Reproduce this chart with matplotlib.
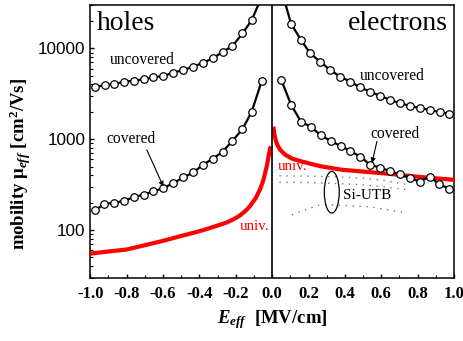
import matplotlib
matplotlib.use("Agg")
import matplotlib.pyplot as plt
from matplotlib.patches import Ellipse

plt.rcParams['mathtext.fontset'] = 'custom'
plt.rcParams['mathtext.rm'] = 'Liberation Serif:bold'
plt.rcParams['mathtext.bf'] = 'Liberation Serif:bold'
plt.rcParams['mathtext.it'] = 'Liberation Serif:italic:bold'

# ---- data ----
holes_unc_x = [-0.974, -0.919, -0.867, -0.812, -0.759, -0.706, -0.653, -0.598, -0.543, -0.488,
               -0.433, -0.381, -0.326, -0.271, -0.218, -0.163, -0.112, -0.05]
holes_unc_y = [3725, 3955, 4055, 4300, 4400, 4560, 4800, 4960, 5400, 5780,
               6280, 6950, 7760, 9180, 10600, 14600, 20500, 40000]

holes_cov_x = [-0.974, -0.922, -0.867, -0.814, -0.759, -0.706, -0.653, -0.598, -0.543, -0.488,
               -0.433, -0.381, -0.326, -0.271, -0.218, -0.163, -0.112, -0.057]
holes_cov_y = [164, 195, 198, 211, 230, 246, 266, 290, 328, 380,
               430, 522, 610, 731, 960, 1290, 2010, 4400]

elec_unc_x = [0.05, 0.1045, 0.16, 0.209, 0.264, 0.319, 0.374, 0.429, 0.484, 0.539,
              0.594, 0.649, 0.704, 0.759, 0.814, 0.869, 0.924, 0.975]
elec_unc_y = [45000, 18500, 12300, 8810, 7130, 5780, 4880, 4300, 3720, 3330,
              3010, 2700, 2490, 2320, 2190, 2100, 1980, 1900]

elec_cov_x = [0.05, 0.105, 0.16, 0.213, 0.267, 0.322, 0.376, 0.43, 0.484, 0.539,
              0.594, 0.649, 0.704, 0.759, 0.812, 0.866, 0.92, 0.975]
elec_cov_y = [4490, 2380, 1540, 1375, 1100, 960, 840, 745, 640, 525,
              485, 445, 410, 372, 342, 388, 318, 285]

univ_h_x = [-1.0, -0.9, -0.8, -0.7, -0.6, -0.5, -0.4, -0.35, -0.3, -0.25, -0.213, -0.18,
            -0.15, -0.121, -0.09, -0.066, -0.05, -0.0385, -0.028, -0.02, -0.011, -0.006]
univ_h_y = [55, 58, 61, 68, 76, 86, 97, 104, 112, 121, 131, 143,
            160, 184, 225, 282, 345, 424, 520, 644, 795, 830]

univ_e_x = [0.007, 0.012, 0.018, 0.028, 0.045, 0.073, 0.11, 0.165, 0.22, 0.275, 0.385,
            0.495, 0.64, 0.823, 1.0]
univ_e_y = [1375, 1150, 1000, 870, 760, 672, 610, 567, 530, 500, 460,
            441, 416, 382, 357]

utb_a_x = [0.04, 0.2, 0.35, 0.5, 0.6, 0.75]
utb_a_y = [395, 392, 385, 372, 355, 315]
utb_b_x = [0.04, 0.2, 0.35, 0.5, 0.6, 0.75]
utb_b_y = [335, 333, 325, 315, 300, 278]
utb_c_x = [0.108, 0.264, 0.429, 0.539, 0.741]
utb_c_y = [147, 190, 185, 180, 154]

x_ticks = [-1.0, -0.8, -0.6, -0.4, -0.2, 0.0, 0.2, 0.4, 0.6, 0.8, 1.0]
x_ticklabels = ['-1.0', '-0.8', '-0.6', '-0.4', '-0.2', '0.0', '0.2', '0.4', '0.6', '0.8', '1.0']
y_ticks = [100, 1000, 10000]
y_ticklabels = ['100', '1000', '10000']

# ---- figure ----
fig = plt.figure(figsize=(4.64, 3.41), dpi=100)
ax = fig.add_axes([0.1946, 0.1862, 0.7838, 0.7991])
ax.set_yscale('log')
ax.set_xlim(-1.0, 1.0)
ax.set_ylim(30, 30000)

mk = dict(color='black', lw=1.6, marker='o', markersize=5.4, markerfacecolor='white',
          markeredgecolor='black', markeredgewidth=0.9, zorder=4)
ax.plot(holes_unc_x, holes_unc_y, **mk)
ax.plot(holes_cov_x, holes_cov_y, **mk)
ax.plot(elec_unc_x, elec_unc_y, **mk)
ax.plot(elec_cov_x, elec_cov_y, **mk)

ax.plot(univ_h_x, univ_h_y, color='#ff0000', lw=3, solid_capstyle='butt', zorder=3)
ax.plot(univ_e_x, univ_e_y, color='#ff0000', lw=3, solid_capstyle='butt', zorder=3)

dot = dict(color='#777777', lw=1.0, linestyle=(0, (1, 4)), zorder=2)
ax.plot(utb_a_x, utb_a_y, **dot)
ax.plot(utb_b_x, utb_b_y, **dot)
ax.plot(utb_c_x, utb_c_y, **dot)

ax.add_patch(Ellipse((0.664, 0.313), 0.041, 0.153, transform=ax.transAxes,
                     fill=False, edgecolor='black', lw=0.9, zorder=5))

ax.axvline(0.0, color='black', lw=1.2, zorder=5)

serif = 'Liberation Serif'
ax.text(0.0176, 0.909, 'holes', transform=ax.transAxes, fontsize=20, family=serif,
        ha='left', va='baseline')
ax.text(0.984, 0.909, 'electrons', transform=ax.transAxes, fontsize=20, family=serif,
        ha='right', va='baseline')
ax.text(-0.891, 6710, 'uncovered', fontsize=11.2, family=serif, ha='left', va='baseline')
ax.text(-0.913, 904, 'covered', fontsize=11.2, family=serif, ha='left', va='baseline')
ax.text(0.484, 4490, 'uncovered', fontsize=11.2, family=serif, ha='left', va='baseline')
ax.text(0.539, 1025, 'covered', fontsize=11.2, family=serif, ha='left', va='baseline')
ax.text(-0.176, 101, 'univ.', fontsize=10.8, family=serif, color='#ff0000', ha='left', va='baseline')
ax.text(0.033, 455, 'univ.', fontsize=10.8, family=serif, color='#ff0000', ha='left', va='baseline')
ax.text(0.39, 219, 'Si-UTB', fontsize=11, family=serif, ha='left', va='baseline', zorder=6)

arr = dict(arrowstyle='-|>', color='black', lw=0.8, mutation_scale=7, shrinkA=0, shrinkB=0)
ax.annotate('', xy=(-0.598, 301), xytext=(-0.689, 762), arrowprops=arr, zorder=6)
ax.annotate('', xy=(0.549, 545), xytext=(0.576, 942), arrowprops=arr, zorder=6)

ax.set_xticks(x_ticks)
ax.set_xticklabels(x_ticklabels, fontfamily=serif, fontweight='bold', fontsize=12)
ax.set_xticks([-0.9, -0.7, -0.5, -0.3, -0.1, 0.1, 0.3, 0.5, 0.7, 0.9], minor=True)
ax.set_yticks(y_ticks)
ax.set_yticklabels(y_ticklabels, fontfamily='Liberation Sans', fontsize=12.3)
ax.tick_params(axis='both', which='major', direction='in', length=3.2, width=1.0)
ax.tick_params(axis='both', which='minor', direction='in', length=2.2, width=0.8)
ax.tick_params(axis='x', which='major', pad=6)
ax.tick_params(axis='y', which='major', pad=3.5)
ax.tick_params(top=False, right=False, which='both')
ax.tick_params(axis='y', which='minor', labelleft=False)
for s in ax.spines.values():
    s.set_linewidth(1.1)

fig.text(272 / 464, 1 - 320 / 341, r'$E_{eff}$  [MV/cm]', fontfamily=serif, fontweight='bold',
         fontsize=13.5, ha='center', va='center')
fig.text(20 / 464, 1 - 164 / 341, r'mobility μ$_{eff}$ [cm$^{2}$/Vs]', fontfamily=serif,
         fontweight='bold', fontsize=13.5, ha='center', va='center', rotation=90)

fig.savefig('out.png', dpi=100)
